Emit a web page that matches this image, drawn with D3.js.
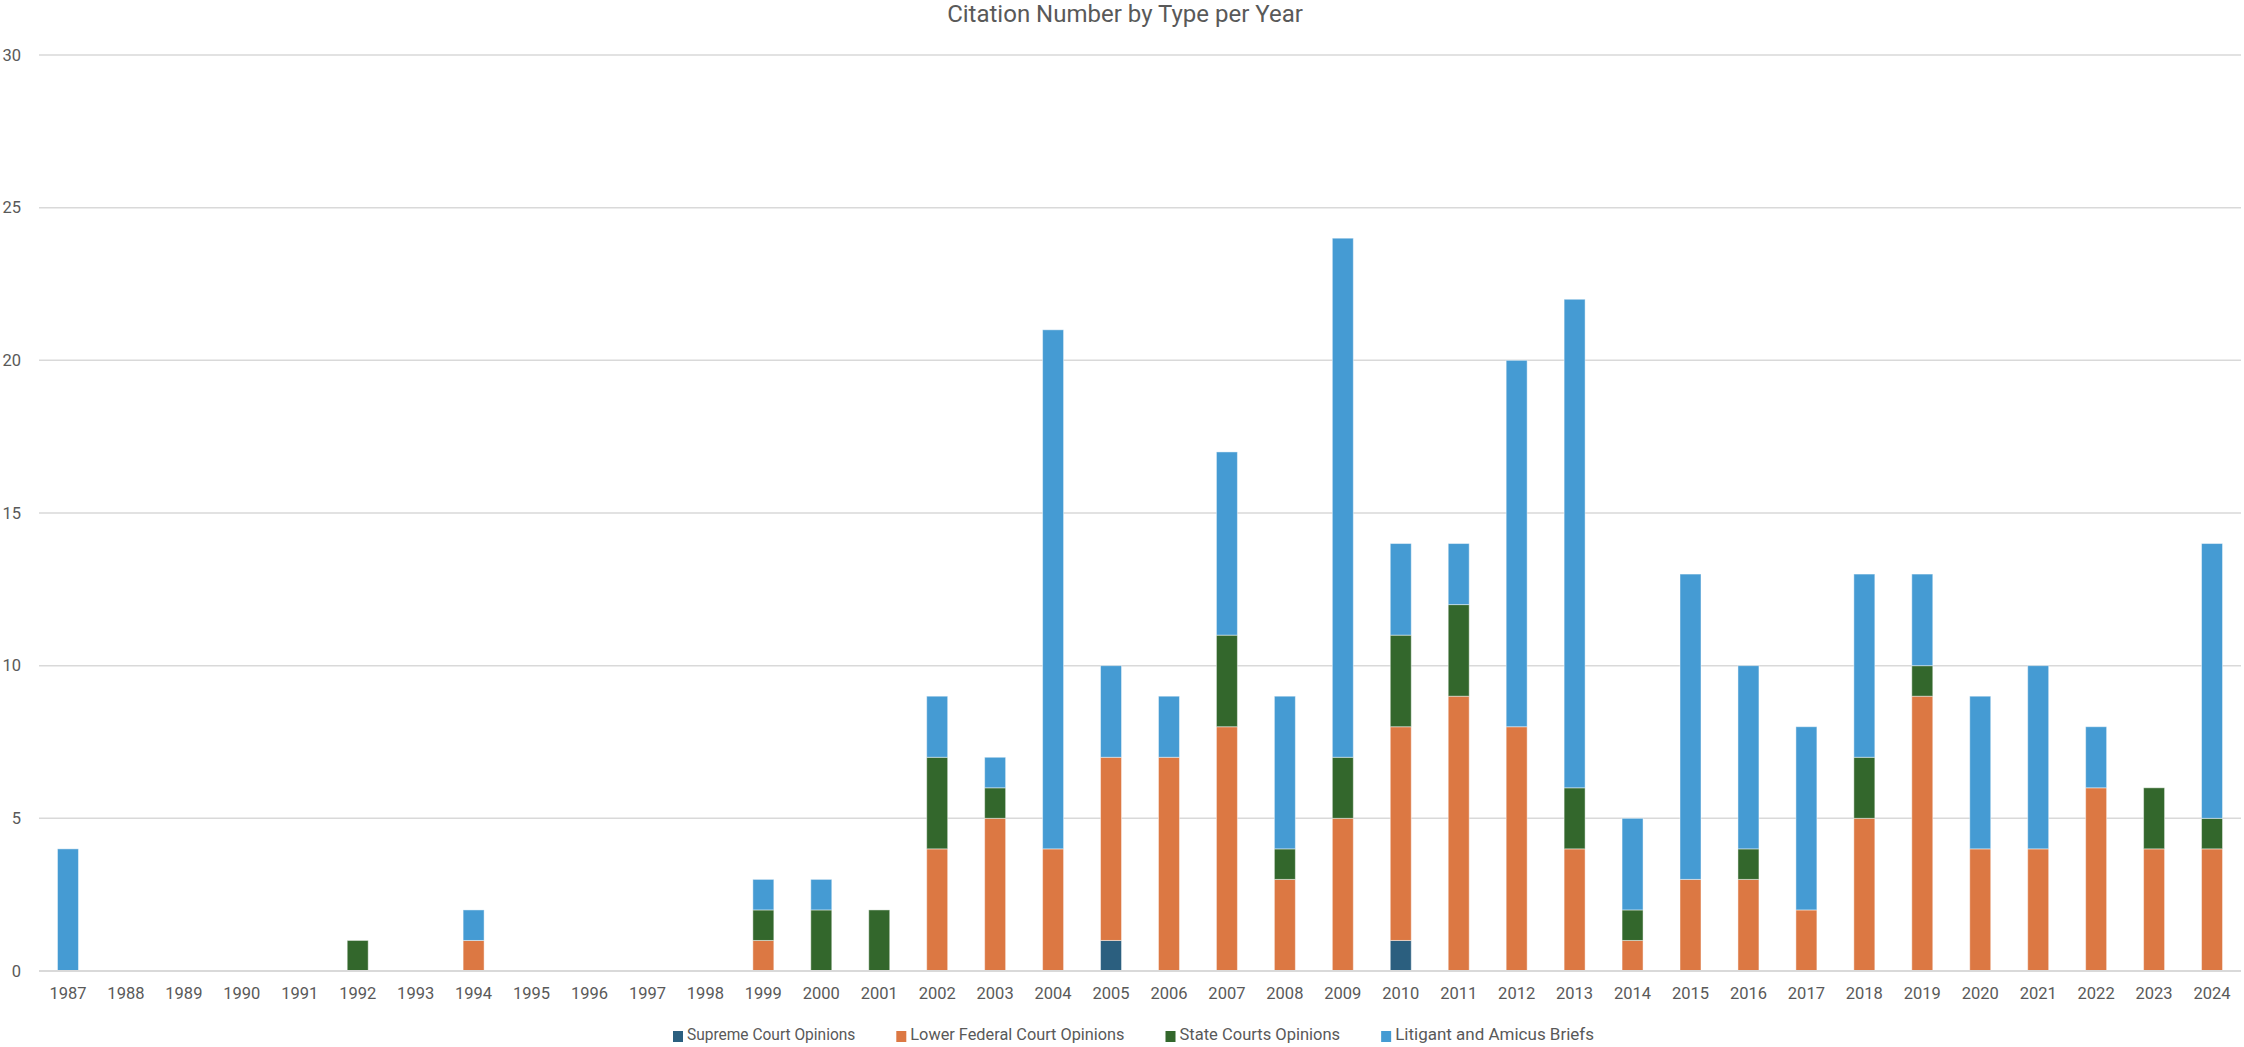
<!DOCTYPE html>
<html>
<head>
<meta charset="utf-8">
<script src="https://cdn.jsdelivr.net/npm/d3@7"></script>
<style>
  html, body { margin: 0; padding: 0; background: #fff; }
  svg { display: block; font-family: Roboto, "Open Sans", sans-serif; }
  .grid-line { stroke: #d9d9d9; stroke-width: 1.5; }
  .tick-lbl { fill: #595959; font-size: 16.5px; }
</style>
</head>
<body>
<svg id="chart" width="2244" height="1047"></svg>
<script>
/* ── Data ─────────────────────────────────────────────────────────────── */
const YEARS = d3.range(1987, 2025).map(String);
const SUPREME = [0,0,0,0,0,0,0,0,0,0,0,0, 0,0,0,0,0,0,1,0,0,0,0,1,0,0,0,0,0,0,0,0,0,0,0,0,0,0];
const LOWER   = [0,0,0,0,0,0,0,1,0,0,0,0, 1,0,0,4,5,4,6,7,8,3,5,7,9,8,4,1,3,3,2,5,9,4,4,6,4,4];
const STATE   = [0,0,0,0,0,1,0,0,0,0,0,0, 1,2,2,3,1,0,0,0,3,1,2,3,3,0,2,1,0,1,0,2,1,0,0,0,2,1];
const BRIEFS  = [4,0,0,0,0,0,0,1,0,0,0,0, 1,1,0,2,1,17,3,2,6,5,17,3,2,12,16,3,10,6,6,6,3,5,6,2,0,9];
const SERIES  = ['Supreme Court Opinions','Lower Federal Court Opinions','State Courts Opinions','Litigant and Amicus Briefs'];
const COLORS  = ['#2b5f7f','#dc7843','#33672c','#459bd3'];
const Y_TICKS = [0,5,10,15,20,25,30];

/* ── Layout ───────────────────────────────────────────────────────────── */
const W = 2244, H = 1047;
const M = { l: 39, r: 3, t: 55, b: 76 };
const svg = d3.select('#chart');

const rows = YEARS.map((yr, i) => ({ year: yr, s0: SUPREME[i], s1: LOWER[i], s2: STATE[i], s3: BRIEFS[i] }));
const stack = d3.stack().keys(['s0','s1','s2','s3'])(rows);

const x = d3.scaleBand().domain(YEARS).range([M.l, W - M.r]).paddingInner(0.638).paddingOuter(0.319);
const y = d3.scaleLinear().domain([0, 30]).range([H - M.b, M.t]);

/* ── Grid ─────────────────────────────────────────────────────────────── */
svg.append('g').selectAll('line').data(Y_TICKS).join('line')
  .attr('class', 'grid-line')
  .attr('x1', M.l).attr('x2', W - M.r)
  .attr('y1', d => y(d)).attr('y2', d => y(d));

/* ── Bars ─────────────────────────────────────────────────────────────── */
svg.append('g').selectAll('g').data(stack).join('g')
  .attr('fill', (d, i) => COLORS[i])
  .selectAll('rect').data(d => d.filter(p => p[1] > p[0])).join('rect')
  .attr('x', d => x(d.data.year))
  .attr('width', x.bandwidth())
  .attr('y', d => y(d[1]))
  .attr('height', d => y(d[0]) - y(d[1]))
  .attr('stroke', 'rgba(255,255,255,0.45)')
  .attr('stroke-width', 1);

/* baseline over bars */
svg.append('line').attr('class', 'grid-line')
  .attr('x1', M.l).attr('x2', W - M.r).attr('y1', y(0)).attr('y2', y(0))
  .style('stroke-width', 2);

/* ── Axes ─────────────────────────────────────────────────────────────── */
svg.append('g').selectAll('text').data(Y_TICKS).join('text')
  .attr('class', 'tick-lbl')
  .attr('x', 21).attr('y', d => y(d)).attr('dy', '0.35em')
  .attr('text-anchor', 'end')
  .text(d => d);

svg.append('g').selectAll('text').data(YEARS).join('text')
  .attr('class', 'tick-lbl')
  .attr('x', d => x(d) + x.bandwidth() / 2).attr('y', 999)
  .attr('text-anchor', 'middle')
  .text(d => d);

/* ── Title ────────────────────────────────────────────────────────────── */
svg.append('text')
  .attr('x', 1125).attr('y', 22)
  .attr('text-anchor', 'middle')
  .attr('fill', '#595959')
  .style('font-size', '24px')
  .text('Citation Number by Type per Year');

/* ── Legend ───────────────────────────────────────────────────────────── */
const lg = svg.append('g');
const items = lg.selectAll('g').data(SERIES).join('g');
items.append('rect').attr('width', 10).attr('height', 11).attr('y', -9)
  .attr('fill', (d, i) => COLORS[i]);
items.append('text').attr('x', 14).attr('y', 0)
  .attr('fill', '#595959').style('font-size', '17px')
  .attr('textLength', d => d.length * 7.65)
  .attr('lengthAdjust', 'spacingAndGlyphs')
  .text(d => d);
let lx = 0;
items.each(function(d) {
  d3.select(this).attr('transform', `translate(${lx},0)`);
  lx += 14 + d.length * 7.65 + 41;
});
lx -= 41;
lg.attr('transform', `translate(${Math.round(1134 - lx / 2)},1040)`);
</script>
</body>
</html>
